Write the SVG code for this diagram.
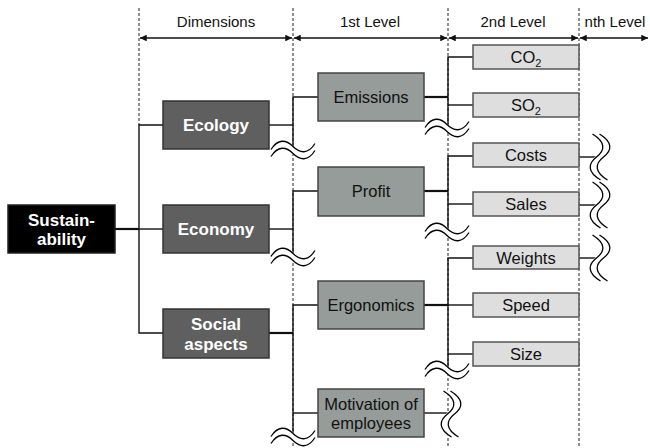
<svg xmlns="http://www.w3.org/2000/svg" xmlns:xlink="http://www.w3.org/1999/xlink" width="650" height="448" viewBox="0 0 650 448">
<style>
text{font-family:"Liberation Sans",Arial,sans-serif;text-anchor:middle}
.hdr{font-size:15px;fill:#111}
.dim rect{fill:#5f5f5f;stroke:#333;stroke-width:1.5}
.dim text{font-size:17px;font-weight:bold;fill:#fff}
.top rect{fill:#000;stroke:#222;stroke-width:1.5}
.top text{font-size:17px;font-weight:bold;fill:#fff}
.l1 rect{fill:#959c99;stroke:#444;stroke-width:1.5}
.l1 text{font-size:16.5px;fill:#111}
.l2 rect{fill:#dedede;stroke:#555;stroke-width:1.5}
.l2 text{font-size:16.5px;fill:#111}
.dash{stroke:#222;stroke-width:1;stroke-dasharray:3,2;fill:none}
.con{stroke:#111;stroke-width:1.4;fill:none}
.thk{stroke:#111;stroke-width:2.2;fill:none}
.arr{stroke:#111;stroke-width:1.5;fill:none;marker-start:url(#ah);marker-end:url(#ah)}
.wv-bg{stroke:#fff;stroke-width:7;fill:none}
.wv{stroke:#000;stroke-width:1.3;fill:none}
</style>
<defs>
<marker id="ah" viewBox="0 0 10 10" refX="10" refY="5" markerWidth="6" markerHeight="4.5" orient="auto-start-reverse" markerUnits="strokeWidth">
<path d="M0,0 L10,5 L0,10 z" fill="#111"/>
</marker>
<g id="hwave">
<path class="wv-bg" d="M-22,3 C-15,-8 -7,-7 0,0 C7,7 15,8 22,-3"/>
<path class="wv" transform="translate(0,-3.5)" d="M-22,3 C-15,-8 -7,-7 0,0 C7,7 15,8 22,-3"/>
<path class="wv" transform="translate(0,3.5)" d="M-22,3 C-15,-8 -7,-7 0,0 C7,7 15,8 22,-3"/>
</g>
<g id="vwave">
<path class="wv-bg" d="M-4,-23 C9,-15 9,-7 0,0 C-9,7 -9,15 4,23"/>
<path class="wv" transform="translate(-3.5,0)" d="M-4,-23 C9,-15 9,-7 0,0 C-9,7 -9,15 4,23"/>
<path class="wv" transform="translate(3.5,0)" d="M-4,-23 C9,-15 9,-7 0,0 C-9,7 -9,15 4,23"/>
</g>
</defs>
<rect width="650" height="448" fill="#fff"/>

<g id="header">
<line class="dash" x1="139" y1="8" x2="139" y2="125"/>
<line class="dash" x1="293" y1="8" x2="293" y2="448"/>
<line class="dash" x1="448" y1="8" x2="448" y2="448"/>
<line class="dash" x1="579" y1="8" x2="579" y2="448"/>
<text class="hdr" x="216" y="27">Dimensions</text>
<text class="hdr" x="370" y="27">1st Level</text>
<text class="hdr" x="513" y="27">2nd Level</text>
<text class="hdr" x="615" y="27">nth Level</text>
<line class="arr" x1="140" y1="38" x2="292" y2="38"/>
<line class="arr" x1="294" y1="38" x2="447" y2="38"/>
<line class="arr" x1="449" y1="38" x2="578" y2="38"/>
<line class="arr" x1="580" y1="38" x2="648" y2="38"/>
</g>

<g id="connectors">
<line class="thk" x1="115" y1="229" x2="139" y2="229"/>
<line class="con" x1="139" y1="229" x2="163" y2="229"/>
<polyline class="con" points="163,125 139,125 139,333 163,333"/>
<line class="con" x1="269" y1="125" x2="293" y2="125"/>
<line class="con" x1="269" y1="229" x2="293" y2="229"/>
<line class="thk" x1="269" y1="333" x2="293" y2="333"/>
<polyline class="con" points="318,97 293,97 293,150"/>
<polyline class="con" points="318,191 293,191 293,257"/>
<polyline class="con" points="318,305 293,305 293,437"/>
<line class="con" x1="293" y1="413" x2="318" y2="413"/>
<line class="thk" x1="424" y1="97" x2="448" y2="97"/>
<line class="thk" x1="424" y1="191" x2="448" y2="191"/>
<line class="thk" x1="424" y1="305" x2="448" y2="305"/>
<line class="con" x1="424" y1="413" x2="448" y2="413"/>
<polyline class="con" points="473,57 448,57 448,128"/>
<line class="con" x1="448" y1="105" x2="473" y2="105"/>
<polyline class="con" points="473,156 448,156 448,232"/>
<line class="con" x1="448" y1="204" x2="473" y2="204"/>
<polyline class="con" points="473,258 448,258 448,370"/>
<line class="con" x1="448" y1="305" x2="473" y2="305"/>
<line class="con" x1="448" y1="354" x2="473" y2="354"/>
<line class="con" x1="579" y1="157" x2="598" y2="157"/>
<line class="con" x1="579" y1="205" x2="598" y2="205"/>
<line class="con" x1="579" y1="258" x2="598" y2="258"/>
<use xlink:href="#hwave" x="293" y="150"/>
<use xlink:href="#hwave" x="293" y="257"/>
<use xlink:href="#hwave" x="293" y="437"/>
<use xlink:href="#hwave" x="447" y="128"/>
<use xlink:href="#hwave" x="447" y="232"/>
<use xlink:href="#hwave" x="447" y="370"/>
<use xlink:href="#vwave" x="600" y="157"/>
<use xlink:href="#vwave" x="600" y="205"/>
<use xlink:href="#vwave" x="600" y="258"/>
<use xlink:href="#vwave" x="451" y="414"/>
</g>

<g id="sustainability" class="top"><rect x="8" y="205" width="107" height="48"/><text x="61.5" y="225.5">Sustain-</text><text x="61.5" y="245">ability</text></g>

<g id="ecology" class="dim"><rect x="163" y="101" width="106" height="48"/><text x="216" y="131">Ecology</text></g>
<g id="economy" class="dim"><rect x="163" y="205" width="106" height="48"/><text x="216" y="235">Economy</text></g>
<g id="social" class="dim"><rect x="163" y="309" width="106" height="49"/><text x="216" y="330">Social</text><text x="216" y="349.5">aspects</text></g>

<g id="emissions" class="l1"><rect x="318" y="73" width="106" height="48"/><text x="371" y="103">Emissions</text></g>
<g id="profit" class="l1"><rect x="318" y="167" width="106" height="49"/><text x="371" y="197">Profit</text></g>
<g id="ergonomics" class="l1"><rect x="318" y="281" width="106" height="48"/><text x="371" y="311">Ergonomics</text></g>
<g id="motivation" class="l1"><rect x="318" y="389" width="106" height="48"/><text x="371" y="409.5">Motivation of</text><text x="371" y="429">employees</text></g>

<g id="co2" class="l2"><rect x="473" y="45" width="106" height="24"/><text x="526" y="63">CO<tspan font-size="11" dy="4">2</tspan></text></g>
<g id="so2" class="l2"><rect x="473" y="93" width="106" height="24"/><text x="526" y="111">SO<tspan font-size="11" dy="4">2</tspan></text></g>
<g id="costs" class="l2"><rect x="473" y="143" width="106" height="24"/><text x="526" y="161">Costs</text></g>
<g id="sales" class="l2"><rect x="473" y="192" width="106" height="24"/><text x="526" y="210">Sales</text></g>
<g id="weights" class="l2"><rect x="473" y="246" width="106" height="23"/><text x="526" y="263.5">Weights</text></g>
<g id="speed" class="l2"><rect x="473" y="293" width="106" height="24"/><text x="526" y="311">Speed</text></g>
<g id="size" class="l2"><rect x="473" y="342" width="106" height="24"/><text x="526" y="360">Size</text></g>
</svg>
